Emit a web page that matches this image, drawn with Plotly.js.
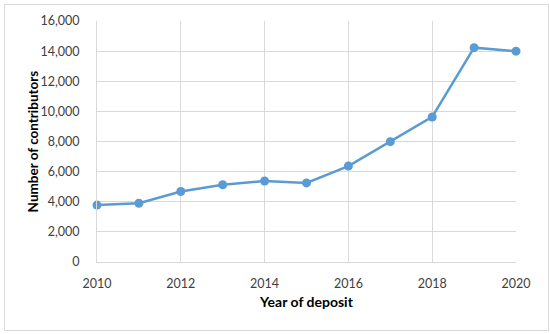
<!DOCTYPE html>
<html>
<head>
<meta charset="utf-8">
<script src="https://cdn.plot.ly/plotly-3.0.1.min.js"></script>
<style>
  body { margin: 0; background: #fff; }
  #frame { position: absolute; left: 4px; top: 4px; width: 543px; height: 325px; border: 1px solid #d9d9d9; }
  #chart { position: absolute; left: 0; top: 0; width: 550px; height: 334px; }
</style>
</head>
<body>
<div id="frame"></div>
<div id="chart"></div>
<script>
const years = [2010, 2011, 2012, 2013, 2014, 2015, 2016, 2017, 2018, 2019, 2020];
const contributors = [3780, 3900, 4680, 5130, 5380, 5250, 6370, 7990, 9630, 14230, 14000];

const x_ticks = [2010, 2012, 2014, 2016, 2018, 2020];
const y_ticks = [0, 2000, 4000, 6000, 8000, 10000, 12000, 14000, 16000];

const blue = "#5b9bd5";
const grid = "#d9d9d9";
const font_family = "Lato, 'Open Sans', sans-serif";

const traces = [{
    type: "scatter",
    mode: "lines+markers",
    x: years,
    y: contributors,
    line: { color: blue, width: 2.5 },
    marker: { color: blue, size: 9 },
    cliponaxis: false,
}];

const layout = {
    width: 550,
    height: 334,
    margin: { l: 97, r: 34, t: 21, b: 72, pad: 0 },
    paper_bgcolor: "rgba(0,0,0,0)",
    plot_bgcolor: "#fff",
    showlegend: false,
    font: { family: font_family, size: 12.5, color: "#404040" },
    xaxis: {
        range: [2010, 2020],
        tickvals: x_ticks,
        ticktext: x_ticks.map(String),
        showgrid: true,
        gridcolor: grid,
        gridwidth: 1,
        showline: true,
        linecolor: grid,
        linewidth: 1,
        zeroline: false,
        ticks: "outside",
        ticklen: 10,
        tickcolor: "rgba(0,0,0,0)",
        title: { text: "<b>Year of deposit</b>", font: { size: 14, color: "#000" }, standoff: 7 },
    },
    yaxis: {
        range: [0, 16000],
        tickvals: y_ticks,
        ticktext: y_ticks.map(v => v.toLocaleString("en-US")),
        showgrid: true,
        gridcolor: grid,
        gridwidth: 1,
        showline: true,
        linecolor: grid,
        linewidth: 1,
        zeroline: false,
        ticks: "outside",
        ticklen: 14,
        tickcolor: "rgba(0,0,0,0)",
    },
    // y title as an annotation so it can sit where the reference has it
    annotations: [{
        text: "<b>Number of contributors</b>",
        xref: "paper", yref: "paper",
        x: -0.153, y: 0.5,
        xanchor: "center", yanchor: "middle",
        textangle: -90,
        showarrow: false,
        font: { size: 13.5, color: "#000" },
    }],
};

Plotly.newPlot("chart", traces, layout, { displayModeBar: false, staticPlot: true });
</script>
</body>
</html>
